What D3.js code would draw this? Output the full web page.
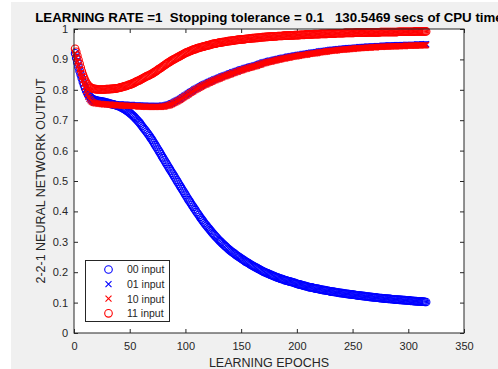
<!DOCTYPE html>
<html>
<head>
<meta charset="utf-8">
<script src="https://cdn.jsdelivr.net/npm/d3@7"></script>
<style>
  body { margin: 0; background: #fff; }
  svg { display: block; }
  text { font-family: "Liberation Sans", Arial, sans-serif; fill: #262626; }
</style>
</head>
<body>
<svg id="chart" width="498" height="369"></svg>
<script>
// network output per epoch (epoch 1..316)
const out00 = [
  0.920,0.905,0.890,0.875,0.862,0.850,0.838,0.826,0.815,0.805,
  0.796,0.789,0.783,0.778,0.774,0.771,0.769,0.767,0.766,0.765,
  0.764,0.763,0.763,0.762,0.761,0.760,0.760,0.759,0.758,0.757,
  0.756,0.755,0.754,0.753,0.752,0.751,0.750,0.749,0.748,0.746,
  0.745,0.743,0.741,0.739,0.737,0.735,0.732,0.730,0.727,0.724,
  0.721,0.718,0.714,0.711,0.707,0.703,0.699,0.695,0.691,0.686,
  0.681,0.676,0.671,0.667,0.662,0.657,0.652,0.647,0.641,0.636,
  0.630,0.624,0.618,0.612,0.606,0.600,0.594,0.588,0.581,0.575,
  0.569,0.563,0.557,0.551,0.545,0.539,0.533,0.527,0.521,0.515,
  0.509,0.503,0.497,0.491,0.485,0.479,0.473,0.467,0.461,0.455,
  0.449,0.443,0.437,0.432,0.426,0.420,0.415,0.409,0.404,0.398,
  0.393,0.388,0.382,0.377,0.372,0.367,0.362,0.357,0.353,0.348,
  0.344,0.339,0.335,0.330,0.326,0.322,0.318,0.314,0.310,0.306,
  0.302,0.299,0.295,0.292,0.288,0.285,0.282,0.278,0.275,0.272,
  0.269,0.266,0.264,0.261,0.258,0.255,0.253,0.250,0.248,0.245,
  0.243,0.240,0.238,0.235,0.233,0.231,0.229,0.226,0.224,0.222,
  0.220,0.218,0.216,0.214,0.212,0.210,0.208,0.206,0.204,0.202,
  0.200,0.199,0.197,0.196,0.194,0.192,0.191,0.189,0.188,0.186,
  0.185,0.183,0.182,0.181,0.179,0.178,0.177,0.176,0.174,0.173,
  0.172,0.171,0.170,0.169,0.168,0.167,0.166,0.165,0.163,0.162,
  0.161,0.160,0.159,0.158,0.157,0.156,0.155,0.154,0.153,0.152,
  0.151,0.150,0.150,0.149,0.148,0.147,0.146,0.146,0.145,0.144,
  0.143,0.143,0.142,0.141,0.141,0.140,0.139,0.139,0.138,0.137,
  0.136,0.136,0.135,0.135,0.134,0.134,0.133,0.132,0.132,0.131,
  0.131,0.130,0.130,0.129,0.129,0.128,0.128,0.127,0.127,0.126,
  0.126,0.125,0.125,0.124,0.124,0.123,0.123,0.122,0.122,0.121,
  0.121,0.120,0.120,0.120,0.119,0.119,0.118,0.118,0.117,0.117,
  0.117,0.116,0.116,0.115,0.115,0.115,0.114,0.114,0.113,0.113,
  0.113,0.112,0.112,0.112,0.111,0.111,0.111,0.110,0.110,0.110,
  0.110,0.109,0.109,0.109,0.108,0.108,0.108,0.107,0.107,0.107,
  0.107,0.106,0.106,0.106,0.105,0.105,0.105,0.104,0.104,0.104,
  0.104,0.103,0.103,0.103,0.102,0.102
];

const out01 = [
  0.920,0.907,0.894,0.881,0.868,0.856,0.844,0.832,0.820,0.808,
  0.797,0.787,0.779,0.772,0.767,0.764,0.762,0.760,0.759,0.758,
  0.758,0.757,0.757,0.757,0.756,0.756,0.755,0.755,0.755,0.754,
  0.754,0.754,0.754,0.753,0.753,0.753,0.753,0.752,0.752,0.752,
  0.752,0.752,0.751,0.751,0.751,0.751,0.750,0.750,0.750,0.750,
  0.750,0.750,0.749,0.749,0.749,0.749,0.749,0.748,0.748,0.748,
  0.748,0.748,0.748,0.748,0.747,0.747,0.747,0.747,0.747,0.747,
  0.747,0.747,0.747,0.747,0.747,0.747,0.747,0.747,0.748,0.748,
  0.748,0.749,0.750,0.751,0.752,0.753,0.755,0.756,0.758,0.760,
  0.762,0.764,0.766,0.768,0.770,0.772,0.775,0.777,0.780,0.782,
  0.784,0.787,0.789,0.792,0.794,0.796,0.798,0.801,0.803,0.805,
  0.807,0.809,0.811,0.813,0.815,0.817,0.819,0.820,0.822,0.824,
  0.826,0.827,0.829,0.830,0.832,0.834,0.835,0.837,0.838,0.840,
  0.841,0.843,0.844,0.846,0.847,0.848,0.850,0.851,0.853,0.854,
  0.855,0.857,0.858,0.859,0.861,0.862,0.863,0.865,0.866,0.867,
  0.868,0.869,0.871,0.872,0.873,0.874,0.875,0.876,0.877,0.878,
  0.879,0.880,0.881,0.882,0.884,0.885,0.886,0.887,0.889,0.890,
  0.891,0.892,0.893,0.894,0.895,0.896,0.896,0.897,0.898,0.899,
  0.900,0.901,0.902,0.902,0.903,0.904,0.905,0.906,0.906,0.907,
  0.908,0.909,0.909,0.910,0.911,0.911,0.912,0.913,0.913,0.914,
  0.915,0.915,0.916,0.916,0.917,0.918,0.918,0.919,0.919,0.920,
  0.921,0.921,0.922,0.922,0.923,0.923,0.924,0.924,0.925,0.926,
  0.926,0.927,0.927,0.928,0.928,0.929,0.929,0.930,0.930,0.931,
  0.931,0.932,0.932,0.932,0.933,0.933,0.934,0.934,0.934,0.935,
  0.935,0.935,0.936,0.936,0.936,0.937,0.937,0.937,0.938,0.938,
  0.938,0.939,0.939,0.939,0.939,0.940,0.940,0.940,0.941,0.941,
  0.941,0.941,0.942,0.942,0.942,0.942,0.943,0.943,0.943,0.943,
  0.943,0.944,0.944,0.944,0.944,0.944,0.945,0.945,0.945,0.945,
  0.945,0.945,0.946,0.946,0.946,0.946,0.946,0.946,0.946,0.947,
  0.947,0.947,0.947,0.947,0.947,0.947,0.947,0.948,0.948,0.948,
  0.948,0.948,0.948,0.948,0.948,0.948,0.948,0.949,0.949,0.949,
  0.949,0.949,0.949,0.949,0.949,0.950
];

const out10 = [
  0.919,0.906,0.893,0.880,0.867,0.855,0.843,0.831,0.819,0.807,
  0.796,0.786,0.777,0.770,0.765,0.761,0.759,0.757,0.756,0.755,
  0.755,0.754,0.754,0.754,0.753,0.753,0.752,0.752,0.752,0.751,
  0.751,0.751,0.751,0.750,0.750,0.750,0.750,0.749,0.749,0.749,
  0.749,0.749,0.748,0.748,0.748,0.748,0.747,0.747,0.747,0.747,
  0.747,0.747,0.746,0.746,0.746,0.746,0.746,0.745,0.745,0.745,
  0.745,0.745,0.745,0.745,0.744,0.744,0.744,0.744,0.744,0.744,
  0.744,0.744,0.744,0.744,0.744,0.744,0.744,0.744,0.745,0.745,
  0.745,0.746,0.747,0.748,0.749,0.750,0.752,0.753,0.755,0.757,
  0.759,0.761,0.763,0.765,0.767,0.769,0.772,0.774,0.777,0.779,
  0.781,0.784,0.786,0.789,0.791,0.793,0.795,0.798,0.800,0.802,
  0.804,0.806,0.808,0.810,0.812,0.814,0.816,0.817,0.819,0.821,
  0.823,0.824,0.826,0.827,0.829,0.831,0.832,0.834,0.835,0.837,
  0.838,0.840,0.841,0.843,0.844,0.845,0.847,0.848,0.850,0.851,
  0.852,0.854,0.855,0.856,0.858,0.859,0.860,0.862,0.863,0.864,
  0.865,0.866,0.868,0.869,0.870,0.871,0.872,0.873,0.874,0.875,
  0.876,0.877,0.878,0.879,0.881,0.882,0.883,0.884,0.886,0.887,
  0.888,0.889,0.890,0.891,0.892,0.893,0.893,0.894,0.895,0.896,
  0.897,0.898,0.899,0.899,0.900,0.901,0.902,0.903,0.903,0.904,
  0.905,0.906,0.906,0.907,0.908,0.908,0.909,0.910,0.910,0.911,
  0.912,0.912,0.913,0.913,0.914,0.915,0.915,0.916,0.916,0.917,
  0.918,0.918,0.919,0.919,0.920,0.920,0.921,0.921,0.922,0.923,
  0.923,0.924,0.924,0.925,0.925,0.926,0.926,0.927,0.927,0.928,
  0.928,0.929,0.929,0.929,0.930,0.930,0.931,0.931,0.931,0.932,
  0.932,0.932,0.933,0.933,0.933,0.934,0.934,0.934,0.935,0.935,
  0.935,0.936,0.936,0.936,0.936,0.937,0.937,0.937,0.938,0.938,
  0.938,0.938,0.939,0.939,0.939,0.939,0.940,0.940,0.940,0.940,
  0.940,0.941,0.941,0.941,0.941,0.941,0.942,0.942,0.942,0.942,
  0.942,0.942,0.943,0.943,0.943,0.943,0.943,0.943,0.943,0.944,
  0.944,0.944,0.944,0.944,0.944,0.944,0.944,0.945,0.945,0.945,
  0.945,0.945,0.945,0.945,0.945,0.945,0.945,0.946,0.946,0.946,
  0.946,0.946,0.946,0.946,0.946,0.947
];

const out11 = [
  0.935,0.925,0.912,0.899,0.886,0.873,0.861,0.850,0.840,0.831,
  0.824,0.818,0.813,0.810,0.807,0.805,0.804,0.803,0.802,0.802,
  0.801,0.801,0.801,0.801,0.801,0.801,0.801,0.801,0.802,0.802,
  0.802,0.802,0.803,0.803,0.803,0.804,0.804,0.805,0.805,0.806,
  0.807,0.808,0.809,0.810,0.811,0.812,0.813,0.814,0.816,0.817,
  0.818,0.820,0.821,0.823,0.825,0.827,0.829,0.830,0.832,0.834,
  0.836,0.838,0.840,0.842,0.844,0.846,0.847,0.849,0.851,0.853,
  0.855,0.858,0.860,0.862,0.865,0.868,0.870,0.872,0.875,0.878,
  0.880,0.883,0.885,0.888,0.890,0.892,0.895,0.897,0.899,0.901,
  0.903,0.905,0.907,0.909,0.911,0.913,0.915,0.917,0.919,0.921,
  0.923,0.924,0.926,0.927,0.929,0.930,0.932,0.933,0.934,0.936,
  0.937,0.938,0.939,0.940,0.941,0.942,0.943,0.944,0.945,0.946,
  0.947,0.948,0.949,0.950,0.951,0.952,0.952,0.953,0.954,0.955,
  0.955,0.956,0.957,0.957,0.958,0.958,0.959,0.960,0.960,0.961,
  0.961,0.962,0.962,0.963,0.963,0.964,0.964,0.965,0.965,0.966,
  0.966,0.966,0.967,0.967,0.968,0.968,0.968,0.969,0.969,0.970,
  0.970,0.970,0.971,0.971,0.971,0.972,0.972,0.972,0.973,0.973,
  0.973,0.974,0.974,0.974,0.975,0.975,0.975,0.975,0.976,0.976,
  0.976,0.976,0.977,0.977,0.977,0.977,0.977,0.978,0.978,0.978,
  0.978,0.978,0.979,0.979,0.979,0.979,0.979,0.980,0.980,0.980,
  0.980,0.980,0.981,0.981,0.981,0.981,0.981,0.982,0.982,0.982,
  0.982,0.982,0.982,0.982,0.983,0.983,0.983,0.983,0.983,0.983,
  0.984,0.984,0.984,0.984,0.984,0.984,0.984,0.985,0.985,0.985,
  0.985,0.985,0.985,0.985,0.986,0.986,0.986,0.986,0.986,0.986,
  0.986,0.986,0.987,0.987,0.987,0.987,0.987,0.987,0.987,0.987,
  0.987,0.988,0.988,0.988,0.988,0.988,0.988,0.988,0.988,0.988,
  0.988,0.988,0.989,0.989,0.989,0.989,0.989,0.989,0.989,0.989,
  0.989,0.989,0.989,0.989,0.990,0.990,0.990,0.990,0.990,0.990,
  0.990,0.990,0.990,0.990,0.990,0.990,0.990,0.990,0.990,0.990,
  0.991,0.991,0.991,0.991,0.991,0.991,0.991,0.991,0.991,0.991,
  0.991,0.991,0.991,0.991,0.991,0.992,0.992,0.992,0.992,0.992,
  0.992,0.992,0.992,0.992,0.992,0.992
];

const legendLabels = ["00 input", "01 input", "10 input", "11 input"];
const xTicks = [0, 50, 100, 150, 200, 250, 300, 350];
const yTicks = [0, 0.1, 0.2, 0.3, 0.4, 0.5, 0.6, 0.7, 0.8, 0.9, 1];

const titleText = "LEARNING RATE =1  Stopping tolerance = 0.1   130.5469 secs of CPU time";

const series = [
  { label: legendLabels[0], values: out00, color: "#0000ff", marker: "o" },
  { label: legendLabels[1], values: out01, color: "#0000ff", marker: "x" },
  { label: legendLabels[2], values: out10, color: "#ff0000", marker: "x" },
  { label: legendLabels[3], values: out11, color: "#ff0000", marker: "o" }
];

const W = 498, H = 369;
const plot = { left: 74, right: 464, top: 29, bottom: 333 };
const axisColor = "#262626";

const svg = d3.select("#chart");

// figure background
svg.append("rect").attr("x", 11).attr("y", 2).attr("width", W - 11).attr("height", H - 2).attr("fill", "#f0f0f0");
svg.append("rect")
  .attr("x", plot.left).attr("y", plot.top)
  .attr("width", plot.right - plot.left).attr("height", plot.bottom - plot.top)
  .attr("fill", "#fff");

const x = d3.scaleLinear().domain([0, 350]).range([plot.left, plot.right]);
const y = d3.scaleLinear().domain([0, 1]).range([plot.bottom, plot.top]);

function styleAxis(g) {
  g.select(".domain").remove();
  g.selectAll(".tick line").attr("stroke", axisColor);
  g.selectAll(".tick text").attr("fill", axisColor).style("font-size", "11px")
    .style("font-family", '"Liberation Sans", Arial, sans-serif');
}

svg.append("g").attr("transform", `translate(0,${plot.bottom})`)
  .call(d3.axisBottom(x).tickValues(xTicks).tickFormat(d3.format("")).tickSize(-4).tickPadding(9))
  .call(styleAxis);
svg.append("g").attr("transform", `translate(0,${plot.top})`)
  .call(d3.axisTop(x).tickValues(xTicks).tickFormat("").tickSize(-4))
  .call(styleAxis);
svg.append("g").attr("transform", `translate(${plot.left},0)`)
  .call(d3.axisLeft(y).tickValues(yTicks).tickFormat(d3.format("")).tickSize(-4).tickPadding(6))
  .call(styleAxis);
svg.append("g").attr("transform", `translate(${plot.right},0)`)
  .call(d3.axisRight(y).tickValues(yTicks).tickFormat("").tickSize(-4))
  .call(styleAxis);

// markers
const markers = svg.append("g");
function drawMarker(g, cx, cy, s) {
  if (s.marker === "o") {
    g.append("circle").attr("cx", cx).attr("cy", cy).attr("r", 3.8)
      .attr("fill", "none").attr("stroke", s.color).attr("stroke-width", 1.1);
  } else {
    const a = 3;
    g.append("path")
      .attr("d", `M${cx - a},${cy - a}L${cx + a},${cy + a}M${cx - a},${cy + a}L${cx + a},${cy - a}`)
      .attr("stroke", s.color).attr("stroke-width", 1.1).attr("fill", "none");
  }
}
series.forEach(s => {
  const g = markers.append("g");
  s.values.forEach((v, i) => drawMarker(g, x(i + 1), y(v), s));
});

// box
svg.append("rect")
  .attr("x", plot.left).attr("y", plot.top)
  .attr("width", plot.right - plot.left).attr("height", plot.bottom - plot.top)
  .attr("fill", "none").attr("stroke", axisColor).attr("stroke-width", 1);

// legend
const leg = svg.append("g");
leg.append("rect").attr("x", 85.5).attr("y", 260.5).attr("width", 84).attr("height", 61)
  .attr("fill", "#fff").attr("stroke", axisColor).attr("stroke-width", 1);
series.forEach((s, i) => {
  const ry = 269.5 + i * 14.6;
  drawMarker(leg, 108.5, ry, s);
  leg.append("text").attr("x", 127).attr("y", ry + 3.8)
    .style("font-size", "10.5px").text(s.label);
});

// labels
svg.append("text")
  .attr("x", (plot.left + plot.right) / 2).attr("y", 21.5)
  .attr("text-anchor", "middle")
  .style("font-size", "13.3px").style("font-weight", "bold").style("white-space", "pre")
  .style("fill", "#000")
  .text(titleText);

svg.append("text")
  .attr("x", (plot.left + plot.right) / 2).attr("y", 367)
  .attr("text-anchor", "middle").style("font-size", "12.5px")
  .text("LEARNING EPOCHS");

svg.append("text")
  .attr("transform", `translate(45,${(plot.top + plot.bottom) / 2}) rotate(-90)`)
  .attr("text-anchor", "middle").style("font-size", "12.5px")
  .text("2-2-1 NEURAL NETWORK OUTPUT");
</script>
</body>
</html>
